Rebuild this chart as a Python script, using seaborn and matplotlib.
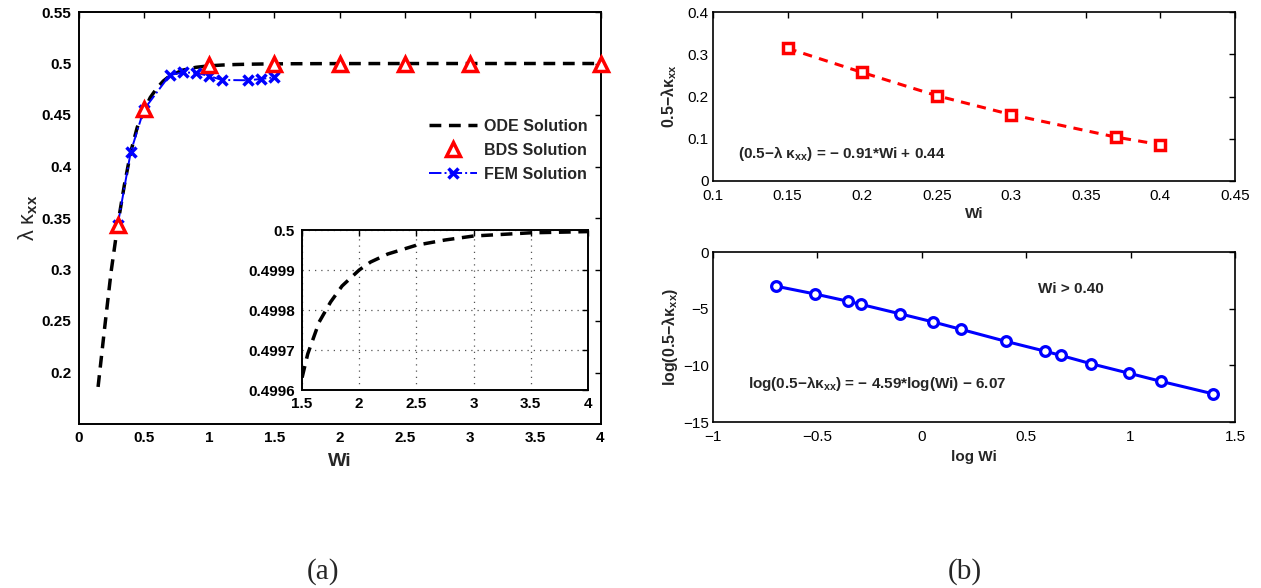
import matplotlib
matplotlib.use("Agg")
import matplotlib.pyplot as plt
import seaborn as sns
import pandas as pd

# ---------------- data ----------------
ode_wi = [0.15, 0.2, 0.25, 0.3, 0.35, 0.4, 0.45, 0.5, 0.55, 0.6, 0.65, 0.7, 0.8, 0.9,
          1.0, 1.1, 1.2, 1.3, 1.4, 1.5, 1.55, 1.6, 1.65, 1.75, 1.85, 2.0, 2.1, 2.25,
          2.5, 2.75, 3.0, 3.5, 4.0]
ode_val = [0.186, 0.243, 0.298, 0.343, 0.381, 0.414, 0.438, 0.454, 0.467, 0.476, 0.483,
           0.4881, 0.4936, 0.4963, 0.4977, 0.49851, 0.4990, 0.49931, 0.4995, 0.49963,
           0.49969, 0.49973, 0.49977, 0.49982, 0.49986, 0.49990, 0.49992, 0.49994,
           0.499962, 0.499975, 0.499985, 0.499993, 0.499996]

bds_wi = [0.3, 0.5, 1.0, 1.5, 2.0, 2.5, 3.0, 4.0]
bds_val = [0.343, 0.456, 0.4990, 0.4997, 0.5, 0.5, 0.5, 0.5]

fem_wi = [0.3, 0.4, 0.5, 0.7, 0.8, 0.9, 1.0, 1.1, 1.3, 1.4, 1.5]
fem_val = [0.343, 0.414, 0.455, 0.4888, 0.4913, 0.4910, 0.4879, 0.4840, 0.4837, 0.4850, 0.4866]

fit_wi = [0.15, 0.2, 0.25, 0.3, 0.37, 0.4]
fit_val = [0.314, 0.257, 0.202, 0.157, 0.104, 0.086]

log_wi = [-0.697, -0.513, -0.355, -0.29, -0.105, 0.052, 0.189, 0.404, 0.588, 0.665,
          0.809, 0.993, 1.145, 1.396]
log_val = [-3.02, -3.70, -4.34, -4.63, -5.45, -6.16, -6.83, -7.89, -8.74, -9.12,
           -9.85, -10.70, -11.41, -12.52]

main_xticks = [0, 0.5, 1, 1.5, 2, 2.5, 3, 3.5, 4]
main_yticks = [0.2, 0.25, 0.3, 0.35, 0.4, 0.45, 0.5, 0.55]
inset_xticks = [1.5, 2, 2.5, 3, 3.5, 4]
inset_yticks = [0.4996, 0.4997, 0.4998, 0.4999, 0.5]
tr_xticks = [0.1, 0.15, 0.2, 0.25, 0.3, 0.35, 0.4, 0.45]
tr_yticks = [0, 0.1, 0.2, 0.3, 0.4]
br_xticks = [-1, -0.5, 0, 0.5, 1, 1.5]
br_yticks = [-15, -10, -5, 0]

# ---------------- style ----------------
sns.set_style("white")
plt.rcParams['font.family'] = ['Liberation Sans', 'DejaVu Sans']
plt.rcParams['mathtext.fontset'] = 'custom'
plt.rcParams['mathtext.rm'] = 'Liberation Sans:bold'
plt.rcParams['mathtext.it'] = 'Liberation Sans:bold'
plt.rcParams['mathtext.bf'] = 'Liberation Sans:bold'
plt.rcParams['axes.unicode_minus'] = True

fig = plt.figure(figsize=(12.61, 5.88), dpi=100)
W, H = 1261.0, 588.0


def axes_px(x0, y0, x1, y1):
    return fig.add_axes([x0 / W, 1 - y1 / H, (x1 - x0) / W, (y1 - y0) / H])


def style_axes(ax, lw=1.3, size=11, weight='bold', xpad=5, ypad=5):
    for s in ax.spines.values():
        s.set_visible(True)
        s.set_color('black')
        s.set_linewidth(lw)
    ax.tick_params(direction='in', top=True, right=True, length=4, width=1,
                   labelsize=size, colors='black')
    ax.tick_params(axis='x', pad=xpad)
    ax.tick_params(axis='y', pad=ypad)
    for lab in ax.get_xticklabels() + ax.get_yticklabels():
        lab.set_fontweight(weight)


ode_df = pd.DataFrame({"Wi": ode_wi, "val": ode_val})

# ---------------- (a) main ----------------
ax = axes_px(78.5, 12, 600.5, 424)
sns.lineplot(data=ode_df, x="Wi", y="val", ax=ax, color='black', lw=2.5,
             linestyle=(0, (3.4, 2.2)), label='ODE Solution', sort=False)
sns.lineplot(x=fem_wi, y=fem_val, ax=ax, color='blue', lw=1.4, linestyle='-.',
             marker='x', markersize=7, markeredgewidth=2.5, markeredgecolor='blue',
             label='FEM Solution', sort=False)
sns.lineplot(x=bds_wi, y=bds_val, ax=ax, color='red', linestyle='none', marker='^',
             markersize=10, markeredgewidth=2.5, markeredgecolor='red',
             markerfacecolor='white', label='BDS Solution', sort=False, clip_on=False,
             zorder=5)
ax.set_xlim(0, 4)
ax.set_ylim(0.15, 0.55)
ax.set_xticks(main_xticks)
ax.set_xticklabels(['0', '0.5', '1', '1.5', '2', '2.5', '3', '3.5', '4'])
ax.set_yticks(main_yticks)
ax.set_yticklabels(['0.2', '0.25', '0.3', '0.35', '0.4', '0.45', '0.5', '0.55'])
style_axes(ax, lw=1.4, size=11, weight='bold')
ax.set_xlabel('Wi', fontsize=14, fontweight='bold', labelpad=6)
ax.set_ylabel('λ κ$_{xx}$', fontsize=15.5, labelpad=1)
handles, labels = ax.get_legend_handles_labels()
order = [labels.index('ODE Solution'), labels.index('BDS Solution'), labels.index('FEM Solution')]
leg = ax.legend([handles[i] for i in order], [labels[i] for i in order],
                loc='upper right', bbox_to_anchor=(1.003, 0.775), frameon=False,
                handlelength=3.0, handletextpad=0.45, labelspacing=0.55,
                prop={'weight': 'bold', 'size': 11.5})

# ---------------- (a) inset ----------------
axi = axes_px(302, 230, 588, 390)
sns.lineplot(data=ode_df, x="Wi", y="val", ax=axi, color='black', lw=2.5,
             linestyle=(0, (3.4, 2.2)), sort=False, legend=False)
axi.set_xlim(1.5, 4)
axi.set_ylim(0.4996, 0.5)
axi.set_xticks(inset_xticks)
axi.set_xticklabels(['1.5', '2', '2.5', '3', '3.5', '4'])
axi.set_yticks(inset_yticks)
axi.set_yticklabels(['0.4996', '0.4997', '0.4998', '0.4999', '0.5'])
axi.grid(True, color='#555555', linestyle=(0, (1, 4)), linewidth=0.9)
axi.set_xlabel('')
axi.set_ylabel('')
style_axes(axi, lw=1.4, size=11, weight='bold')

# ---------------- (b) top ----------------
axt = axes_px(713, 12, 1235, 181)
sns.lineplot(x=fit_wi, y=fit_val, ax=axt, color='red', lw=2.2, linestyle=(0, (3.0, 2.4)),
             marker='s', markersize=7, markeredgewidth=2.5, markeredgecolor='red',
             markerfacecolor='white', sort=False)
axt.set_xlim(0.1, 0.45)
axt.set_ylim(0, 0.4)
axt.set_xticks(tr_xticks)
axt.set_xticklabels(['0.1', '0.15', '0.2', '0.25', '0.3', '0.35', '0.4', '0.45'])
axt.set_yticks(tr_yticks)
axt.set_yticklabels(['0', '0.1', '0.2', '0.3', '0.4'])
style_axes(axt, lw=1.2, size=11, weight='normal', xpad=6, ypad=3)
axt.set_xlabel('Wi', fontsize=11, fontweight='bold', labelpad=3)
axt.set_ylabel('0.5−λκ$_{xx}$', fontsize=11.5, fontweight='bold', labelpad=6)
axt.text(0.117, 0.064, '(0.5−λ κ$_{xx}$) = − 0.91*Wi + 0.44', fontsize=11,
         fontweight='bold', va='center', ha='left')

# ---------------- (b) bottom ----------------
axb = axes_px(713, 252, 1235, 422)
sns.lineplot(x=log_wi, y=log_val, ax=axb, color='blue', lw=2.2, linestyle='-',
             marker='o', markersize=7, markeredgewidth=2.3, markeredgecolor='blue',
             markerfacecolor='white', sort=False)
axb.set_xlim(-1, 1.5)
axb.set_ylim(-15, 0)
axb.set_xticks(br_xticks)
axb.set_xticklabels(['−1', '−0.5', '0', '0.5', '1', '1.5'])
axb.set_yticks(br_yticks)
axb.set_yticklabels(['−15', '−10', '−5', '0'])
style_axes(axb, lw=1.2, size=11, weight='normal', xpad=6, ypad=3)
axb.set_xlabel('log Wi', fontsize=11, fontweight='bold', labelpad=4)
axb.set_ylabel('log(0.5−λκ$_{xx}$)', fontsize=11.5, fontweight='bold', labelpad=2)
axb.text(-0.83, -11.56, 'log(0.5−λκ$_{xx}$) = − 4.59*log(Wi) − 6.07', fontsize=11,
         fontweight='bold', va='center', ha='left')
axb.text(0.557, -3.26, 'Wi > 0.40', fontsize=11, fontweight='bold', va='center', ha='left')

# ---------------- captions ----------------
fig.text(323 / W, 1 - 572 / H, '(a)', fontsize=21, family='Liberation Serif',
         ha='center', va='center')
fig.text(965 / W, 1 - 572 / H, '(b)', fontsize=21, family='Liberation Serif',
         ha='center', va='center')

fig.savefig('out.png', dpi=100)
